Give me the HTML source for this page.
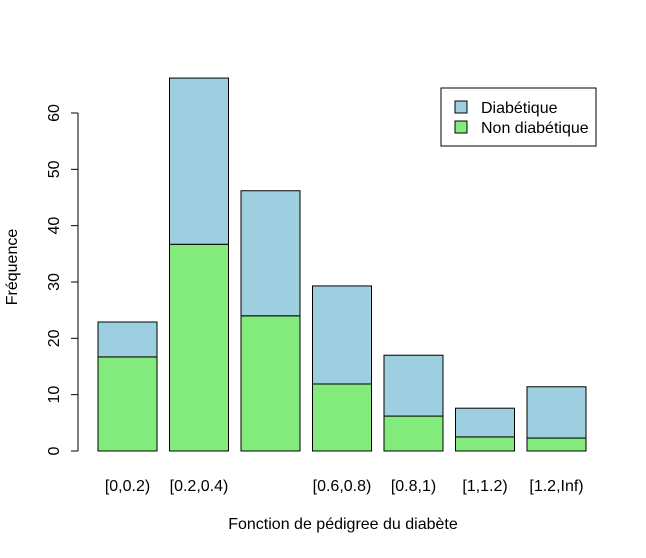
<!DOCTYPE html>
<html><head><meta charset="utf-8"><style>
body{margin:0;background:#fff;}
svg text{font-family:"Liberation Sans",Arial,sans-serif;fill:#000;}
</style></head><body>
<svg width="646" height="553" id="chart">
<g id="bars"></g>
<g id="yaxis"></g>
<g id="xlabels"></g>
<text x="343" y="529" font-size="16" text-anchor="middle">Fonction de pédigree du diabète</text>
<text transform="translate(17,267) rotate(-90)" font-size="16" text-anchor="middle">Fréquence</text>
<g>
<rect x="441" y="88" width="155" height="58" fill="#fff" stroke="#000"/>
<g>
<rect x="455" y="101" width="12" height="12" fill="#9ecfe0" stroke="#000"/>
<text x="481" y="113" font-size="16">Diabétique</text></g>
<g>
<rect x="455" y="121" width="12" height="12" fill="#82eb7b" stroke="#000"/>
<text x="481" y="133" font-size="16">Non diabétique</text></g>
</g>
</svg>
<script>
const categories=["[0,0.2)","[0.2,0.4)","[0.4,0.6)","[0.6,0.8)","[0.8,1)","[1,1.2)","[1.2,Inf)"];
const showLabel=[true,true,false,true,true,true,true];
const nonDiab=[16.7,36.7,24.0,11.9,6.2,2.5,2.3];
const diab=[6.2,29.5,22.2,17.4,10.8,5.1,9.1];
const yTicks=[0,10,20,30,40,50,60];
const NS="http://www.w3.org/2000/svg";
const y0=451,ppu=338/60;
const y=v=>y0-v*ppu;
const xL=i=>98+i*71.5, bw=59;
const bars=document.getElementById('bars');
function mk(tag,attrs,parent){const e=document.createElementNS(NS,tag);for(const k in attrs)e.setAttribute(k,attrs[k]);parent.appendChild(e);return e;}
categories.forEach((c,i)=>{
 const g=nonDiab[i],d=diab[i];
 const r1=mk('rect',{x:xL(i),y:y(g),width:bw,height:g*ppu,fill:'#82eb7b',stroke:'#000'},bars);
 
 
 const r2=mk('rect',{x:xL(i),y:y(g+d),width:bw,height:d*ppu,fill:'#9ecfe0',stroke:'#000'},bars);
 
 
 if(showLabel[i]){
  const t=mk('text',{x:xL(i)+bw/2,y:491,'font-size':16,'text-anchor':'middle'},document.getElementById('xlabels'));
  t.textContent=c;
  
  
 }
});
const ya=document.getElementById('yaxis');
mk('line',{x1:78,x2:78,y1:y(0),y2:y(60),stroke:'#000'},ya);
yTicks.forEach(v=>{
 mk('line',{x1:71,x2:78,y1:y(v),y2:y(v),stroke:'#000'},ya);
 const t=mk('text',{transform:`translate(59,${y(v)}) rotate(-90)`,'font-size':16,'text-anchor':'middle'},ya);
 t.textContent=v;
 
 
});
</script>
</body></html>
